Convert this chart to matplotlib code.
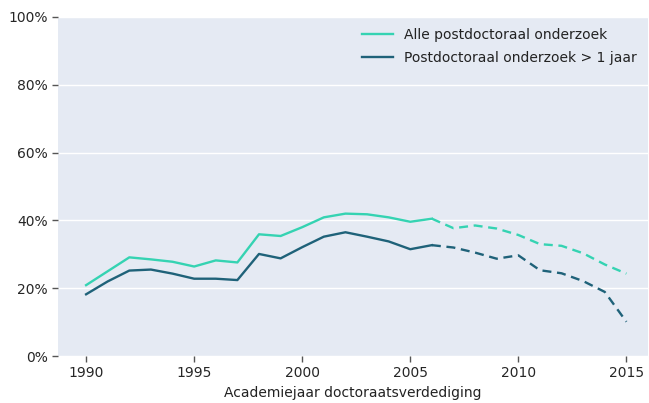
import matplotlib
matplotlib.use("Agg")
import matplotlib.pyplot as plt
from matplotlib.ticker import PercentFormatter

years = list(range(1990, 2016))
alle = [20.9, 25.0, 29.1, 28.5, 27.8, 26.4, 28.2, 27.6, 35.9, 35.4, 38.0, 40.9, 42.0,
        41.8, 40.9, 39.6, 40.5, 37.7, 38.5, 37.6, 35.7, 33.0, 32.5, 30.3, 27.0, 24.3]
langer = [18.2, 22.0, 25.2, 25.5, 24.3, 22.8, 22.8, 22.4, 30.1, 28.8, 32.1, 35.2, 36.5,
          35.2, 33.8, 31.5, 32.7, 32.0, 30.5, 28.7, 29.7, 25.3, 24.4, 22.1, 18.9, 10.1]
labels = ["Alle postdoctoraal onderzoek", "Postdoctoraal onderzoek > 1 jaar"]
colors = ["#35d3b2", "#1f6279"]
split_year = 2006  # solid up to here, dashed after

fig = plt.figure(figsize=(6.49, 4.03), dpi=100)
ax = fig.add_axes([58 / 649, 1 - 356 / 403, 590 / 649, 339 / 403])
ax.set_facecolor("#e5eaf3")

k = years.index(split_year)
for vals, lab, c in zip([alle, langer], labels, colors):
    ax.plot(years[:k + 1], vals[:k + 1], color=c, lw=1.7, label=lab)
    ax.plot(years[k:], vals[k:], color=c, lw=1.7, ls=(0, (3.8, 2.4)))

ax.set_ylim(0, 100)
ax.set_xlim(1988.7, 2016.0)
ax.set_yticks([0, 20, 40, 60, 80, 100])
ax.set_xticks([1990, 1995, 2000, 2005, 2010, 2015])
ax.yaxis.set_major_formatter(PercentFormatter(decimals=0))
ax.grid(axis="y", color="white", lw=1)
ax.set_axisbelow(True)
for s in ax.spines.values():
    s.set_visible(False)
ax.tick_params(labelsize=10, labelcolor="#262626", length=4, width=1, color="#555555")
ax.set_xlabel("Academiejaar doctoraatsverdediging", fontsize=10, color="#222222", labelpad=4)

ax.legend(loc="upper right", frameon=False, fontsize=10, handlelength=2.2,
          labelcolor="#222222", borderaxespad=0.4, labelspacing=0.65)

fig.savefig("out.png", dpi=100)
